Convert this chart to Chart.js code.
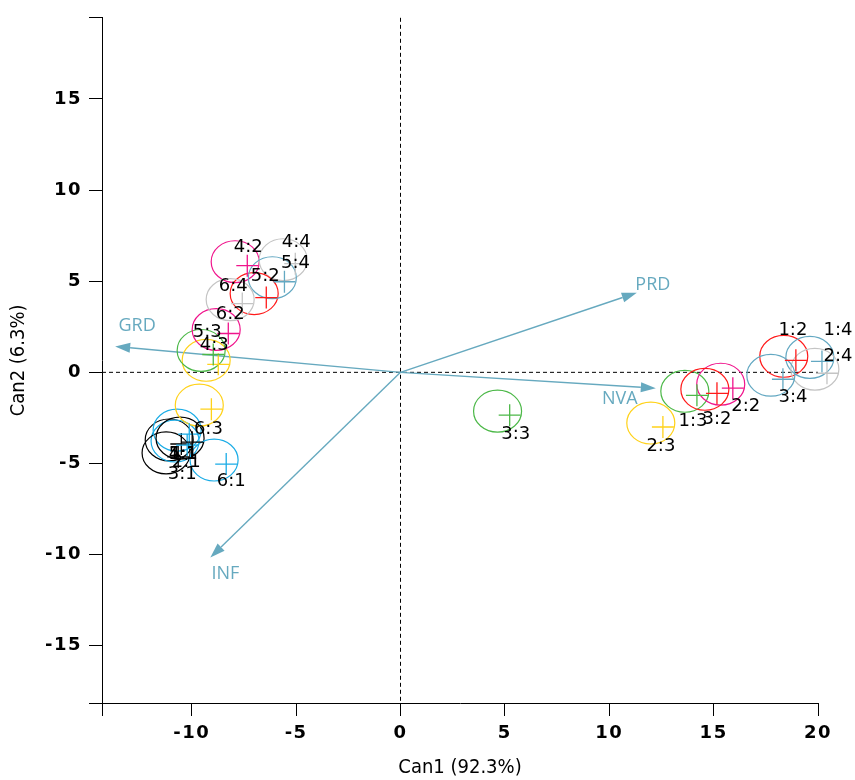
<!DOCTYPE html>
<html>
<head>
<meta charset="utf-8">
<script src="https://cdn.jsdelivr.net/npm/chart.js@4.4.1/dist/chart.umd.min.js"></script>
<style>
  html, body { margin: 0; padding: 0; background: #fff; }
  #wrap { width: 855px; height: 780px; }
</style>
</head>
<body>
<div id="wrap"><canvas id="canChart" width="855" height="780"></canvas></div>
<script>
// --- data: group means (treatment:site) on the two canonical axes ---
const labels = ['1:1', '1:2', '1:3', '1:4',
                '2:1', '2:2', '2:3', '2:4',
                '3:1', '3:2', '3:3', '3:4',
                '4:1', '4:2', '4:3', '4:4',
                '5:1', '5:2', '5:3', '5:4',
                '6:1', '6:2', '6:3', '6:4'];
const can1 = [-10.5, 18.94, 14.2, 20.19,
              -10.22, 15.92, 12.57, 20.43,
              -10.65, 15.16, 5.23, 18.32,
              -10.12, -7.34, -8.73, -5.04,
              -9.98, -6.43, -8.97, -5.56,
              -8.35, -8.25, -9.06, -7.58];
const can2 = [-3.93, 0.66, -1.26, 0.60,
              -3.99, -0.87, -3.0, -0.05,
              -4.64, -1.15, -2.35, -0.38,
              -3.39, 5.85, 0.44, 5.96,
              -3.83, 4.10, 0.98, 4.97,
              -5.03, 2.13, -2.02, 3.77];

// structure vectors (arrows)
const vecNames = ['PRD', 'GRD', 'NVA', 'INF'];
const vecX = [11.32, -13.67, 12.23, -9.11];
const vecY = [4.37, 1.42, -0.87, -10.16];

// --- styles ---
// colour by site, two shades for odd / even treatment
const palette = {
    '1': ['#000000', '#1aace6'],
    '2': ['#ff1a1a', '#f0148c'],
    '3': ['#4cb848', '#ffd21a'],
    '4': ['#63a8c2', '#c4c4c4']
};
const colors = labels.map(l => {
    const [g, s] = l.split(':');
    return palette[s][(+g) % 2 === 1 ? 0 : 1];
});
const arrowColor = '#66a9bf';
const circleR = 1.15;          // confidence circle radius (data units)
const circleShift = [-0.58, 0.22];
// label nudges in pixels (dx, dy) from the group mean
const labelNudge = {
    '1:1': [2, 10], '1:2': [-3, -30], '1:3': [-4, 26], '1:4': [16, -31],
    '2:1': [-1, 17], '2:2': [13, 18], '2:3': [-2, 19], '2:4': [11, -17],
    '3:1': [4, 17], '3:2': [0, 26], '3:3': [6, 19], '3:4': [10, 18],
    '4:1': [-6, 20], '4:2': [1, -18], '4:3': [-4, -19], '4:4': [1, -21],
    '5:1': [-9, 12], '5:2': [-1, -21], '5:3': [-6, -22], '5:4': [11, -18],
    '6:1': [5, 17], '6:2': [2, -19], '6:3': [-3, 20], '6:4': [-9, -17]
};
const vecNudge = { PRD: [16, -8], GRD: [22, -21], NVA: [-36, 11], INF: [15, 16] };

// wider tracking on the bold tick labels
const origDrawLabels = Chart.LinearScale.prototype.drawLabels;
Chart.LinearScale.prototype.drawLabels = function (area) {
    this.ctx.save();
    this.ctx.letterSpacing = '1.5px';
    origDrawLabels.call(this, area);
    this.ctx.restore();
};

const biplot = {
    id: 'biplot',
    beforeDatasetsDraw(chart) {
        const { ctx, chartArea: a, scales: { x, y } } = chart;
        const x0 = x.getPixelForValue(0), y0 = y.getPixelForValue(0);
        ctx.save();
        // dashed zero lines
        ctx.strokeStyle = '#000';
        ctx.lineWidth = 1;
        ctx.setLineDash([4, 3]);
        ctx.beginPath();
        ctx.moveTo(x0, a.top); ctx.lineTo(x0, a.bottom);
        ctx.moveTo(a.left, y0); ctx.lineTo(a.right, y0);
        ctx.stroke();
        ctx.setLineDash([]);

        // arrows
        ctx.strokeStyle = arrowColor;
        ctx.fillStyle = arrowColor;
        ctx.lineWidth = 1.4;
        ctx.font = '18px "Open Sans"';
        ctx.textAlign = 'center';
        ctx.textBaseline = 'middle';
        vecNames.forEach((name, i) => {
            const tx = x.getPixelForValue(vecX[i]), ty = y.getPixelForValue(vecY[i]);
            const ang = Math.atan2(ty - y0, tx - x0);
            const hl = 15, hw = 5;
            const bx = tx - hl * Math.cos(ang), by = ty - hl * Math.sin(ang);
            ctx.beginPath();
            ctx.moveTo(x0, y0); ctx.lineTo(bx, by);
            ctx.stroke();
            ctx.beginPath();
            ctx.moveTo(tx, ty);
            ctx.lineTo(bx + hw * Math.sin(ang), by - hw * Math.cos(ang));
            ctx.lineTo(bx - hw * Math.sin(ang), by + hw * Math.cos(ang));
            ctx.closePath();
            ctx.fill();
            const n = vecNudge[name];
            ctx.fillText(name, tx + n[0], ty + n[1]);
        });

        // confidence circles
        ctx.lineWidth = 1.2;
        labels.forEach((l, i) => {
            const cx = can1[i] + circleShift[0], cy = can2[i] + circleShift[1];
            const px = x.getPixelForValue(cx), py = y.getPixelForValue(cy);
            const rx = Math.abs(x.getPixelForValue(cx + circleR) - px);
            const ry = Math.abs(y.getPixelForValue(cy + circleR) - py);
            ctx.strokeStyle = colors[i];
            ctx.beginPath();
            ctx.ellipse(px, py, rx, ry, 0, 0, Math.PI * 2);
            ctx.stroke();
        });
        ctx.restore();
    },
    afterDatasetsDraw(chart) {
        const { ctx, scales: { x, y } } = chart;
        ctx.save();
        ctx.fillStyle = '#000';
        ctx.font = '18px "DejaVu Sans"';
        ctx.textAlign = 'center';
        ctx.textBaseline = 'middle';
        labels.forEach((l, i) => {
            const n = labelNudge[l];
            ctx.fillText(l, x.getPixelForValue(can1[i]) + n[0], y.getPixelForValue(can2[i]) + n[1]);
        });
        ctx.restore();
    }
};

const tickFont = { family: '"DejaVu Sans"', size: 18, weight: 'bold' };
const titleFont = { family: '"DejaVu Sans Condensed", "DejaVu Sans"', size: 20 };
const every5 = v => (Math.abs(v % 5) < 1e-9 ? v : '');

new Chart(document.getElementById('canChart'), {
    type: 'scatter',
    data: {
        datasets: [{
            data: labels.map((l, i) => ({ x: can1[i], y: can2[i] })),
            pointStyle: 'cross',
            pointRadius: 11,
            pointBorderWidth: 1.3,
            pointBorderColor: colors,
            pointBackgroundColor: colors,
            showLine: false,
            clip: false
        }]
    },
    options: {
        responsive: false,
        animation: false,
        layout: { padding: { left: 0, right: 37, top: 15, bottom: 0 } },
        plugins: { legend: { display: false }, tooltip: { enabled: false } },
        scales: {
            x: {
                type: 'linear', min: -14.3, max: 20,
                ticks: { stepSize: 5, autoSkip: false, maxRotation: 0, callback: every5, font: tickFont, color: '#000', padding: 7 },
                grid: { display: true, drawOnChartArea: false, drawTicks: true, tickLength: 13, color: '#000' },
                border: { color: '#000', width: 1 },
                title: { display: true, text: 'Can1 (92.3%)', font: titleFont, color: '#000', padding: { top: 0, bottom: 0 } },
                afterFit: s => { s.height = 77; }
            },
            y: {
                type: 'linear', min: -18.14, max: 19.45,
                ticks: { stepSize: 5, autoSkip: false, callback: every5, font: tickFont, color: '#000', padding: 7 },
                grid: { display: true, drawOnChartArea: false, drawTicks: true, tickLength: 13, color: '#000' },
                border: { color: '#000', width: 1 },
                title: { display: true, text: 'Can2 (6.3%)', font: titleFont, color: '#000', padding: { top: 7, bottom: 0 } },
                afterFit: s => { s.width = 102; }
            }
        }
    },
    plugins: [biplot]
});
</script>
</body>
</html>
